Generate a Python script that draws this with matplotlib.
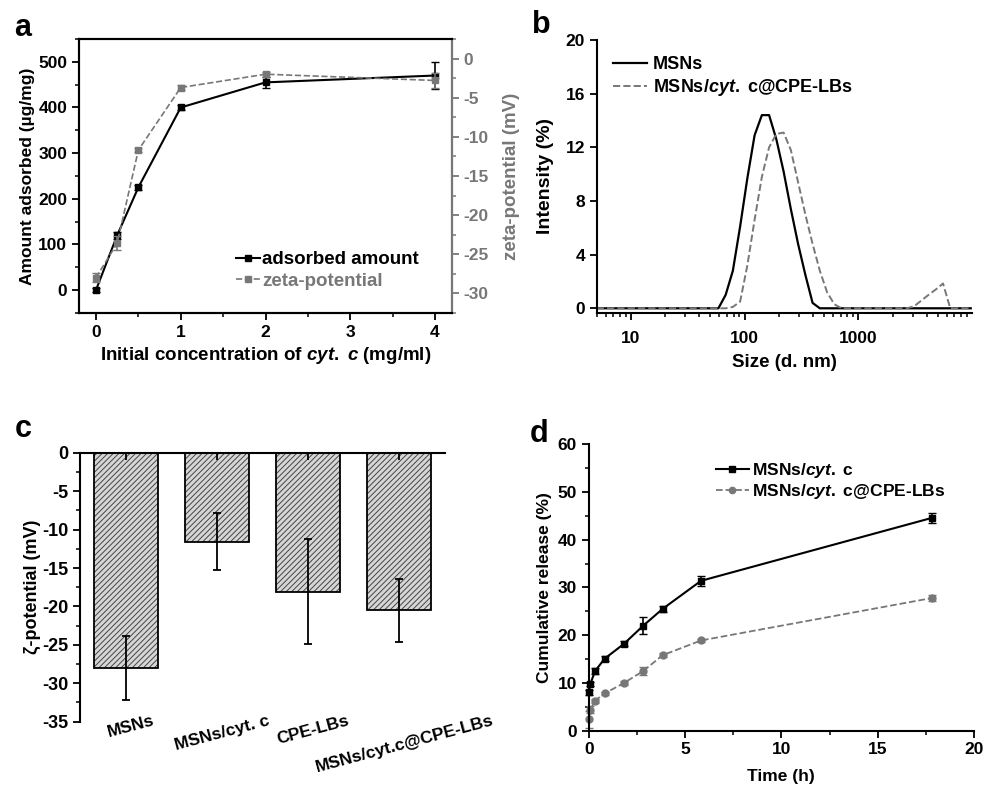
import numpy as np
import matplotlib
matplotlib.use("Agg")
import matplotlib.pyplot as plt
import matplotlib.transforms as mtransforms
from matplotlib.lines import Line2D
from matplotlib.ticker import MultipleLocator, FixedLocator, NullFormatter

plt.rcParams['font.family'] = ['Liberation Sans', 'DejaVu Sans']
plt.rcParams['font.weight'] = 'bold'
plt.rcParams['axes.labelweight'] = 'bold'
plt.rcParams['font.size'] = 12
plt.rcParams['axes.unicode_minus'] = False
plt.rcParams['mathtext.fontset'] = 'custom'
plt.rcParams['mathtext.rm'] = 'Liberation Sans:bold'
plt.rcParams['mathtext.bf'] = 'Liberation Sans:bold'
plt.rcParams['mathtext.it'] = 'Liberation Sans:italic:bold'
plt.rcParams['axes.linewidth'] = 1.5
plt.rcParams['xtick.major.width'] = 1.3
plt.rcParams['ytick.major.width'] = 1.3
plt.rcParams['xtick.minor.width'] = 1.1
plt.rcParams['ytick.minor.width'] = 1.1
plt.rcParams['hatch.linewidth'] = 0.7

GRAY = '#777777'

# ---- panel a: adsorption vs. initial concentration
conc = [0, 0.25, 0.5, 1, 2, 4]
adsorbed = [0, 120, 225, 400, 455, 470]
adsorbed_err = [4, 8, 5, 6, 12, 30]
zeta = [-28.0, -23.6, -11.7, -3.7, -2.0, -2.8]
zeta_err = [0.6, 0.9, 0.3, 0.3, 0.3, 0.9]

# ---- panel b: DLS size distributions
size_msn = [5, 58.8, 68.1, 78.8, 91.3, 105.7, 122.4, 141.8, 164.2, 190.1,
            220.2, 255.0, 295.3, 342.0, 396.1, 458.7, 10000]
int_msn = [0, 0, 1.0, 2.8, 6.1, 9.7, 12.9, 14.4, 14.4, 12.6,
           10.2, 7.4, 4.8, 2.5, 0.4, 0, 0]
size_lb = [5, 68.1, 78.8, 91.3, 105.7, 122.4, 141.8, 164.2, 190.1, 220.2,
           255.0, 295.3, 342.0, 396.1, 458.7, 531.2, 615.1, 712.4,
           2669, 3091, 3580, 4145, 4801, 5560, 6439, 10000]
int_lb = [0, 0, 0.1, 0.5, 3.2, 6.6, 9.8, 12.0, 13.0, 13.1,
          11.8, 9.4, 7.0, 4.8, 2.8, 1.2, 0.3, 0,
          0, 0.15, 0.57, 1.0, 1.4, 1.85, 0, 0]

# ---- panel c: zeta potentials
samples = ['MSNs', 'MSNs/cyt. c', 'CPE-LBs', 'MSNs/cyt.c@CPE-LBs']
zp = [-28.0, -11.6, -18.1, -20.5]
zp_err = [4.2, 3.7, 6.85, 4.1]

# ---- panel d: release profiles
t_h = [0, 0.083, 0.33, 0.83, 1.83, 2.83, 3.83, 5.83, 17.83]
rel_msn = [8.0, 9.8, 12.5, 15.1, 18.2, 22.0, 25.5, 31.4, 44.6]
rel_msn_err = [0.6, 0.5, 0.6, 0.5, 0.5, 1.8, 0.6, 1.0, 1.0]
rel_lb = [2.4, 4.4, 6.3, 7.8, 10.0, 12.5, 15.8, 18.9, 27.8]
rel_lb_err = [1.8, 0.8, 0.4, 0.4, 0.4, 0.8, 0.4, 0.4, 0.7]

fig = plt.figure(figsize=(9.85, 7.86), dpi=100)

# ================= a
ax = fig.add_axes([0.0802, 0.6018, 0.3787, 0.3486])
ax.errorbar(conc, adsorbed, yerr=adsorbed_err, color='black', lw=1.5,
            marker='s', ms=5, capsize=3, elinewidth=1.2)
ax.set_xlim(-0.2, 4.2)
ax.set_ylim(-50, 550)
ax.xaxis.set_major_locator(MultipleLocator(1))
ax.xaxis.set_minor_locator(MultipleLocator(0.5))
ax.yaxis.set_major_locator(MultipleLocator(100))
ax.yaxis.set_minor_locator(MultipleLocator(50))
ax.tick_params(which='both', direction='out', top=False, right=False, labelsize=12.5)
ax.tick_params(which='major', length=5)
ax.tick_params(which='minor', length=3)
ax.set_xlabel('Initial concentration of $cyt.$ $c$ (mg/ml)', fontsize=13.5, labelpad=4)
ax.set_ylabel('Amount adsorbed (\u00b5g/mg)', fontsize=12.5, labelpad=2)

ax2 = ax.twinx()
ax2.errorbar(conc, zeta, yerr=zeta_err, color=GRAY, lw=1.2, ls='--',
             marker='s', ms=5, capsize=3, elinewidth=1.2)
ax2.set_ylim(-32.5, 2.5)
ax2.yaxis.set_major_locator(MultipleLocator(5))
ax2.yaxis.set_minor_locator(MultipleLocator(2.5))
ax2.spines['right'].set_color(GRAY)
ax2.tick_params(axis='y', which='both', colors=GRAY, direction='out', labelsize=12.5)
ax2.tick_params(which='major', length=5)
ax2.tick_params(which='minor', length=3)
ax2.set_ylabel('zeta-potential (mV)', color=GRAY, fontsize=13.5, labelpad=10)

hand_a = [Line2D([], [], color='black', lw=1.5, marker='s', ms=4),
          Line2D([], [], color=GRAY, lw=1.2, ls='--', marker='s', ms=4)]
leg = ax2.legend(hand_a, ['adsorbed amount', 'zeta-potential'], loc='upper left',
                 frameon=False, handlelength=1.3, handletextpad=0.1, fontsize=13.5,
                 bbox_to_anchor=(0.396, 0.26), labelspacing=0.25, borderpad=0)
leg.get_texts()[1].set_color(GRAY)

fig.text(0.014, 0.954, 'a', fontsize=22, fontweight='bold')

# ================= b
bx = fig.add_axes([0.6058, 0.6018, 0.381, 0.3473])
bx.plot(size_msn, int_msn, color='black', lw=1.6)
bx.plot(size_lb, int_lb, color=GRAY, lw=1.4, ls='--')
bx.set_xscale('log')
bx.set_xlim(5, 10000)
bx.set_ylim(-0.35, 20)
bx.xaxis.set_major_locator(FixedLocator([10, 100, 1000]))
bx.set_xticklabels(['10', '100', '1000'])
bx.xaxis.set_minor_formatter(NullFormatter())
bx.yaxis.set_major_locator(MultipleLocator(4))
bx.spines['top'].set_visible(False)
bx.spines['right'].set_visible(False)
bx.tick_params(which='both', direction='out', labelsize=12.5)
bx.tick_params(axis='x', pad=8)
bx.tick_params(which='major', length=5)
bx.tick_params(which='minor', length=3)
bx.set_xlabel('Size (d. nm)', fontsize=13.5, labelpad=6)
bx.set_ylabel('Intensity (%)', fontsize=14, labelpad=8)
hand_b = [Line2D([], [], color='black', lw=1.6),
          Line2D([], [], color=GRAY, lw=1.4, ls='--')]
bx.legend(hand_b, ['MSNs', 'MSNs/$cyt.$ c@CPE-LBs'], loc='upper left', frameon=False,
          handlelength=1.9, handletextpad=0.3, bbox_to_anchor=(0.019, 0.975),
          fontsize=13, labelspacing=0.25, borderpad=0)

fig.text(0.540, 0.958, 'b', fontsize=22, fontweight='bold')

# ================= c
cx = fig.add_axes([0.0812, 0.0818, 0.3706, 0.3422])
xpos = np.arange(1, len(samples) + 1)
cx.bar(xpos, zp, width=0.7, color='#d6d6d6', edgecolor='#444444', hatch='//////',
       linewidth=0)
cx.bar(xpos, zp, width=0.7, fill=False, edgecolor='black', linewidth=1.3)
cx.errorbar(xpos, zp, yerr=zp_err, fmt='none', ecolor='black', elinewidth=1.3,
            capsize=3, capthick=1.3)
cx.set_xlim(0.5, 4.5)
cx.set_ylim(-35, 0)
cx.yaxis.set_major_locator(MultipleLocator(5))
cx.yaxis.set_minor_locator(MultipleLocator(2.5))
cx.spines['right'].set_visible(False)
cx.spines['bottom'].set_visible(False)
cx.set_xticks(xpos)
cx.set_xticklabels(samples, rotation=15, ha='center', va='top')
cx.tick_params(axis='x', bottom=False, top=True, direction='in', length=5, pad=-6,
               labelsize=12.5)
shift = mtransforms.ScaledTranslation(5 / 100, 0, fig.dpi_scale_trans)
for lab in cx.get_xticklabels():
    lab.set_transform(lab.get_transform() + shift)
cx.tick_params(axis='y', which='both', direction='out', labelsize=13)
cx.tick_params(axis='y', which='major', length=5)
cx.tick_params(axis='y', which='minor', length=3)
cx.set_ylabel('\u03b6-potential (mV)', fontsize=13, labelpad=1)

fig.text(0.015, 0.444, 'c', fontsize=22, fontweight='bold')

# ================= d
dx = fig.add_axes([0.5977, 0.0704, 0.3911, 0.3643])
dx.errorbar(t_h, rel_msn, yerr=rel_msn_err, color='black', lw=1.5, marker='s',
            ms=5, capsize=3, elinewidth=1.2, clip_on=False)
dx.errorbar(t_h, rel_lb, yerr=rel_lb_err, color=GRAY, lw=1.3, ls='--', marker='o',
            ms=5, capsize=3, elinewidth=1.2, clip_on=False)
dx.set_xlim(0, 20)
dx.set_ylim(0, 60)
dx.xaxis.set_major_locator(MultipleLocator(5))
dx.xaxis.set_minor_locator(MultipleLocator(2.5))
dx.yaxis.set_major_locator(MultipleLocator(10))
dx.yaxis.set_minor_locator(MultipleLocator(5))
dx.spines['top'].set_visible(False)
dx.spines['right'].set_visible(False)
dx.tick_params(which='both', direction='out', labelsize=12.5)
dx.tick_params(which='major', length=5)
dx.tick_params(which='minor', length=3)
dx.set_xlabel('Time (h)', fontsize=12.5, labelpad=8)
dx.set_ylabel('Cumulative release (%)', fontsize=12.5, labelpad=4)
hand_d = [Line2D([], [], color='black', lw=1.5, marker='s', ms=4),
          Line2D([], [], color=GRAY, lw=1.3, ls='--', marker='o', ms=4.5)]
dx.legend(hand_d, ['MSNs/$cyt.$ c', 'MSNs/$cyt.$ c@CPE-LBs'], loc='upper left',
          frameon=False, handlelength=1.9, handletextpad=0.2,
          bbox_to_anchor=(0.307, 0.972), fontsize=12.5, labelspacing=0.1, borderpad=0)

fig.text(0.538, 0.438, 'd', fontsize=22, fontweight='bold')

fig.savefig('out.png', dpi=100)
